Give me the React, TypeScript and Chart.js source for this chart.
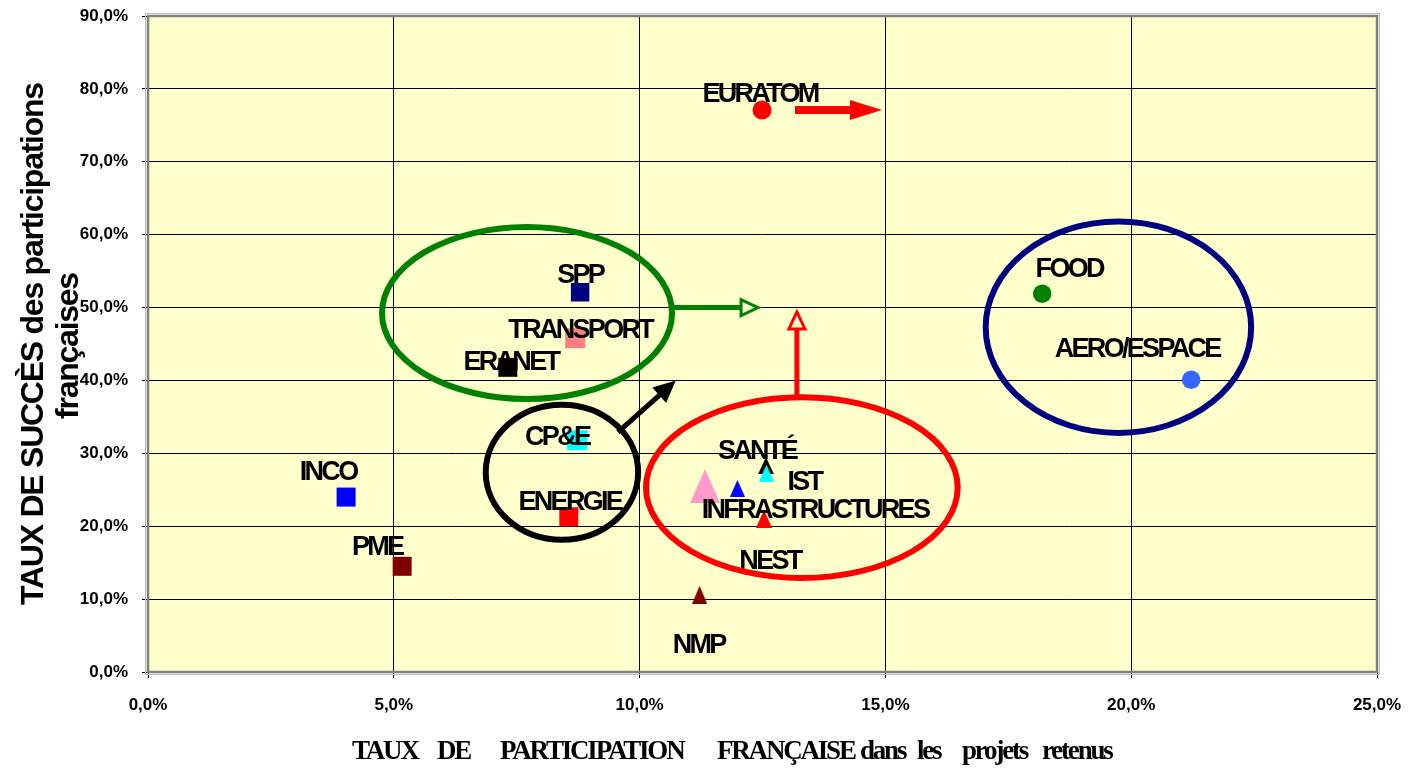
import React, { useEffect, useRef } from "react";
import { Chart, registerables } from "chart.js";

Chart.register(...registerables);

// ---------- axis ranges / ticks ----------
const X_MIN = 0;
const X_MAX = 25;
const X_STEP = 5;
const Y_MIN = 0;
const Y_MAX = 90;
const Y_STEP = 10;

// ---------- data (percent) ----------
const squareNames = ["SPP", "TRANSPORT", "ERANET", "CP&E", "ENERGIE", "INCO", "PME"];
const squareX = [8.79, 8.69, 7.32, 8.73, 8.56, 4.03, 5.17];
const squareY = [52.1, 45.8, 41.8, 31.8, 21.3, 24.0, 14.5];

const circleNames = ["EURATOM", "FOOD", "AERO/ESPACE"];
const circleX = [12.49, 18.19, 21.22];
const circleY = [77.1, 51.9, 40.1];

const triangleNames = ["INFRASTRUCTURES", "", "SANTÉ", "IST", "NEST", "NMP"];
const triangleX = [11.33, 11.99, 12.57, 12.58, 12.53, 11.22];
const triangleY = [25.5, 25.2, 28.3, 27.3, 21.0, 10.6];

// ---------- styles ----------
const squareColors = ["#000080", "#FF8080", "#000000", "#00FFFF", "#FF0000", "#0000FF", "#800000"];
const squareSides = [18.5, 20, 19, 20, 19, 19, 19];
const squareLabelOffsets = [[0, -17], [5, -8], [3, -5], [-20, -3], [1, -14], [-18, -25], [-25, -19]];

const circleColors = ["#FF0000", "#008000", "#3366FF"];
const circleRadii = [9.5, 9.3, 9.3];
const circleLabelOffsets = [[-2, -15], [27, -24], [-54, -30]];

const triangleColors = ["#FF99CC", "#0000FF", "#000000", "#00FFFF", "#FF0000", "#800000"];
const triangleW = [30, 15, 16, 15, 16, 15];
const triangleH = [34, 17, 17, 17, 18, 18];
const triangleLabelOffsets = [[110, 24], [0, 0], [-9, -14], [38, 10], [6, 43], [-1, 51]];

// ---------- hand-drawn annotations (data units) ----------
const ellipseCX = [7.71, 8.42, 13.3, 19.74];
const ellipseCY = [49.25, 27.4, 25.3, 47.3];
const ellipseRX = [2.95, 1.55, 3.17, 2.7];
const ellipseRY = [11.8, 9.26, 12.4, 14.5];
const ellipseColors = ["#008000", "#000000", "#FF0000", "#000080"];

const arrowFromX = [10.66, 13.2, 9.56];
const arrowFromY = [50.0, 37.6, 32.9];
const arrowToX = [12.41, 13.2, 10.68];
const arrowToY = [50.0, 49.4, 39.65];
const arrowColors = ["#008000", "#FF0000", "#000000"];
const arrowHeadFill = ["#FFFFCC", "#FFFFCC", "#000000"];

const bigArrowFromX = 13.16;
const bigArrowToX = 14.93;
const bigArrowY = 77.1;

const Y_TITLE_1 = "TAUX DE SUCCÈS des participations";
const Y_TITLE_2 = "françaises";
const X_TITLE_WORDS = ["TAUX", "DE", "PARTICIPATION", "FRANÇAISE", "dans", "les", "projets", "retenus"];
const X_TITLE_STARTS = [352, 437, 500, 717, 860, 917, 962, 1042];

const fmtPct = (v: number) => Number(v).toFixed(1).replace(".", ",") + "%";

function triangleImage(color: string, w: number, h: number) {
  const c = document.createElement("canvas");
  c.width = w;
  c.height = h;
  const g = c.getContext("2d")!;
  g.fillStyle = color;
  g.beginPath();
  g.moveTo(w / 2, 0);
  g.lineTo(w, h);
  g.lineTo(0, h);
  g.closePath();
  g.fill();
  return c;
}

const LABEL_FONT = "bold 27px 'Liberation Sans', Arial, sans-serif";

const decorPlugin = {
  id: "decor",
  beforeDraw(chart: any) {
    const { ctx, chartArea: a } = chart;
    ctx.save();
    ctx.fillStyle = "#FFFFCC";
    ctx.fillRect(a.left, a.top, a.right - a.left, a.bottom - a.top);
    ctx.restore();
  },
  beforeDatasetsDraw(chart: any) {
    const { ctx, chartArea: a } = chart;
    ctx.save();
    ctx.strokeStyle = "#BDBDBD";
    ctx.lineWidth = 1;
    ctx.strokeRect(a.left - 2.5, a.top - 2.5, a.right - a.left + 5, a.bottom - a.top + 5);
    ctx.strokeStyle = "#808080";
    ctx.lineWidth = 2.5;
    ctx.strokeRect(a.left, a.top, a.right - a.left, a.bottom - a.top);
    ctx.restore();
  },
  afterDatasetsDraw(chart: any) {
    const { ctx } = chart;
    const xs = chart.scales.x;
    const ys = chart.scales.y;
    const px = (v: number) => xs.getPixelForValue(v);
    const py = (v: number) => ys.getPixelForValue(v);

    ctx.save();
    // labels
    ctx.font = LABEL_FONT;
    (ctx as any).letterSpacing = "-2.7px";
    ctx.fillStyle = "#000";
    ctx.textAlign = "center";
    ctx.textBaseline = "middle";
    const drawLabels = (names: string[], xv: number[], yv: number[], offs: number[][]) => {
      names.forEach((n, i) => {
        if (!n) return;
        ctx.fillText(n, px(xv[i]) + offs[i][0], py(yv[i]) + offs[i][1]);
      });
    };
    drawLabels(squareNames, squareX, squareY, squareLabelOffsets);
    drawLabels(circleNames, circleX, circleY, circleLabelOffsets);
    drawLabels(triangleNames, triangleX, triangleY, triangleLabelOffsets);
    (ctx as any).letterSpacing = "0px";

    // ellipses
    ellipseCX.forEach((cx, i) => {
      const x = px(cx);
      const y = py(ellipseCY[i]);
      const rx = Math.abs(px(cx + ellipseRX[i]) - x);
      const ry = Math.abs(py(ellipseCY[i] + ellipseRY[i]) - y);
      ctx.beginPath();
      ctx.ellipse(x, y, rx, ry, 0, 0, Math.PI * 2);
      ctx.strokeStyle = ellipseColors[i];
      ctx.lineWidth = 6;
      ctx.stroke();
    });

    // arrows with triangular heads
    arrowFromX.forEach((fx, i) => {
      const x1 = px(fx), y1 = py(arrowFromY[i]);
      const x2 = px(arrowToX[i]), y2 = py(arrowToY[i]);
      const ang = Math.atan2(y2 - y1, x2 - x1);
      const headLen = 17;
      const headW = 8;
      const bx = x2 - Math.cos(ang) * headLen;
      const by = y2 - Math.sin(ang) * headLen;
      ctx.strokeStyle = arrowColors[i];
      ctx.lineWidth = 5;
      ctx.lineCap = "butt";
      ctx.beginPath();
      ctx.moveTo(x1, y1);
      ctx.lineTo(bx, by);
      ctx.stroke();
      ctx.beginPath();
      ctx.moveTo(x2, y2);
      ctx.lineTo(bx + Math.sin(ang) * headW, by - Math.cos(ang) * headW);
      ctx.lineTo(bx - Math.sin(ang) * headW, by + Math.cos(ang) * headW);
      ctx.closePath();
      ctx.fillStyle = arrowHeadFill[i];
      ctx.fill();
      ctx.lineWidth = 3;
      ctx.lineJoin = "miter";
      ctx.stroke();
    });

    // EURATOM block arrow
    {
      const x1 = px(bigArrowFromX);
      const x2 = px(bigArrowToX);
      const y = py(bigArrowY);
      const headLen = 32;
      ctx.fillStyle = "#FF0000";
      ctx.fillRect(x1, y - 4, x2 - headLen - x1, 8);
      ctx.beginPath();
      ctx.moveTo(x2, y);
      ctx.lineTo(x2 - headLen, y - 10);
      ctx.lineTo(x2 - headLen, y + 10);
      ctx.closePath();
      ctx.fill();
    }
    ctx.restore();
  },
  afterDraw(chart: any) {
    const { ctx, chartArea: a } = chart;
    ctx.save();
    // Y title
    const cy = (a.top + a.bottom) / 2;
    ctx.fillStyle = "#000";
    ctx.font = "bold 32px 'Liberation Sans', Arial, sans-serif";
    (ctx as any).letterSpacing = "-1.25px";
    ctx.textAlign = "center";
    ctx.textBaseline = "alphabetic";
    ctx.save();
    ctx.translate(43, cy);
    ctx.rotate(-Math.PI / 2);
    ctx.fillText(Y_TITLE_1, 0, 0);
    ctx.restore();
    ctx.save();
    ctx.translate(78, cy + 2);
    ctx.rotate(-Math.PI / 2);
    ctx.fillText(Y_TITLE_2, 0, 0);
    ctx.restore();
    // X title
    ctx.font = "bold 27px 'Liberation Serif', 'Times New Roman', serif";
    (ctx as any).letterSpacing = "-2.2px";
    ctx.textAlign = "left";
    X_TITLE_WORDS.forEach((w, i) => {
      ctx.fillText(w, X_TITLE_STARTS[i], 759);
    });
    (ctx as any).letterSpacing = "0px";
    ctx.restore();
  },
};

export default function App() {
  const ref = useRef<HTMLCanvasElement | null>(null);

  useEffect(() => {
    if (!ref.current) return;
    const triImages = triangleColors.map((c, i) => triangleImage(c, triangleW[i], triangleH[i]));
    const tickFont = { family: "'Liberation Sans', Arial, sans-serif", size: 17, weight: "bold" as const };
    const zeroPad = (s: any) => {
      s.paddingTop = 0;
      s.paddingBottom = 0;
      s.paddingLeft = 0;
      s.paddingRight = 0;
    };

    const chart = new Chart(ref.current, {
      type: "scatter",
      data: {
        datasets: [
          {
            label: "circles",
            data: circleX.map((x, i) => ({ x, y: circleY[i] })),
            pointStyle: "circle",
            pointRadius: circleRadii,
            pointBackgroundColor: circleColors,
            pointBorderWidth: 0,
            borderWidth: 0,
          },
          {
            label: "squares",
            data: squareX.map((x, i) => ({ x, y: squareY[i] })),
            pointStyle: "rect",
            pointRadius: squareSides.map((s) => s / Math.SQRT2),
            pointBackgroundColor: squareColors,
            pointBorderWidth: 0,
            borderWidth: 0,
          },
          {
            label: "triangles",
            data: triangleX.map((x, i) => ({ x, y: triangleY[i] })),
            pointStyle: triImages as any,
            pointRadius: triangleW.map((w) => w / 2),
            pointBackgroundColor: triangleColors,
            pointBorderWidth: 0,
            borderWidth: 0,
          },
        ],
      },
      options: {
        responsive: false,
        animation: false,
        events: [],
        layout: { padding: { top: 16, right: 33, left: 0, bottom: 0 } },
        plugins: { legend: { display: false }, tooltip: { enabled: false } },
        scales: {
          x: {
            type: "linear",
            min: X_MIN,
            max: X_MAX,
            afterFit: (s: any) => {
              s.height = 97;
              zeroPad(s);
            },
            ticks: {
              stepSize: X_STEP,
              callback: (v: any) => fmtPct(v),
              font: tickFont,
              color: "#000",
              padding: 17,
              maxRotation: 0,
            },
            grid: { color: "#000", lineWidth: 1, tickLength: 6, tickColor: "#000" },
            border: { display: false },
          },
          y: {
            type: "linear",
            min: Y_MIN,
            max: Y_MAX,
            afterFit: (s: any) => {
              s.width = 148;
              zeroPad(s);
            },
            ticks: {
              stepSize: Y_STEP,
              callback: (v: any) => fmtPct(v),
              font: tickFont,
              color: "#000",
              padding: 14,
            },
            grid: { color: "#000", lineWidth: 1, tickLength: 6, tickColor: "#000" },
            border: { display: false },
          },
        },
      },
      plugins: [decorPlugin],
    });
    return () => chart.destroy();
  }, []);

  return (
    <div style={{ position: "absolute", left: 0, top: 0, width: 1410, height: 769, background: "#fff" }}>
      <canvas ref={ref} width={1410} height={769} style={{ display: "block" }} />
    </div>
  );
}
